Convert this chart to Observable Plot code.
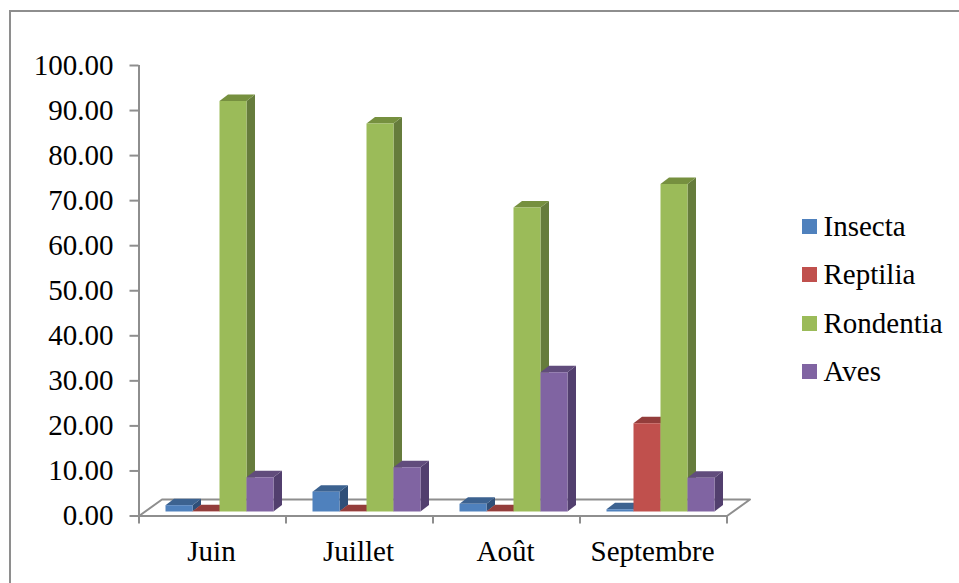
<!DOCTYPE html>
<html lang="fr">
<head>
<meta charset="utf-8">
<title>Régime alimentaire par mois</title>
<script src="https://cdn.jsdelivr.net/npm/d3@7"></script>
<script src="https://cdn.jsdelivr.net/npm/@observablehq/plot@0.6"></script>
<style>
  html, body { margin: 0; background: #fff; }
  #chart { position: relative; width: 959px; height: 583px; overflow: hidden;
           font-family: "Liberation Serif", "Times New Roman", serif; }
  #chart svg { position: absolute; left: 0; top: 0; background: transparent; }
  #border { position: absolute; left: 8.5px; top: 9.5px; width: 960px; height: 600px;
            border: 2px solid #8e8e8e; box-sizing: border-box; }
  #legend { position: absolute; left: 802px; top: 207px; color: #000; font-size: 29px; }
  #legend div { position: absolute; left: 0; white-space: nowrap; height: 30px; line-height: 30px; }
  #legend i { position: absolute; left: 0; top: 8px; width: 15px; height: 15px; }
  #legend span { position: absolute; left: 21.5px; top: 0; }
</style>
</head>
<body>
<div id="chart"><div id="border"></div><div id="legend"></div></div>
<script>
const months = ["Juin", "Juillet", "Août", "Septembre"];
const series = ["Insecta", "Reptilia", "Rondentia", "Aves"];
const insecta = [1.4, 4.4, 1.7, 0.5];
const reptilia = [0.05, 0.05, 0.05, 19.6];
const rondentia = [91.1, 86.1, 67.5, 72.7];
const aves = [7.6, 9.8, 30.9, 7.5];
const values = [insecta, reptilia, rondentia, aves];

const frontColors = ["#4f81bd", "#c0504d", "#9bbb59", "#8064a2"];
const topColors = ["#3c6290", "#933d3b", "#76903f", "#614c7c"];
const sideColors = ["#2f4f78", "#7c3331", "#667c3c", "#523f6e"];

// Bar layout within one month band, and the pseudo-3D depth, in scale units.
const barWidth = 27 / 147;
const barStart = 27 / 147;
const depthX = 8.5 / 147;
const depthY = 6.5 / 4.5;

// Each bar becomes three filled faces, painted back to front from left to right.
const faces = [];
months.forEach((month, m) => {
  series.forEach((name, s) => {
    const v = values[s][m];
    const x1 = m + barStart + s * barWidth;
    const x2 = x1 + barWidth;
    const face = (kind, color, pts) =>
      pts.forEach(([x, y]) => faces.push({id: `${month}-${name}-${kind}`, color, x, y}));
    face("side", sideColors[s], [[x2, 0], [x2 + depthX, depthY], [x2 + depthX, v + depthY], [x2, v]]);
    face("top", topColors[s], [[x1, v], [x1 + depthX, v + depthY], [x2 + depthX, v + depthY], [x2, v]]);
    face("front", frontColors[s], [[x1, 0], [x1, v], [x2, v], [x2, 0]]);
  });
});

// Floor of the chart: front edge on the axis, back edge receding to the right.
const floorDepthX = 23 / 147;
const floorDepthY = 16.5 / 4.5;
const floor = [
  {x: 0, y: 0}, {x: floorDepthX, y: floorDepthY},
  {x: 4 + floorDepthX, y: floorDepthY}, {x: 4, y: 0}, {x: 0, y: 0}
];

const gray = "#8e8e8e";
const plot = Plot.plot({
  width: 959,
  height: 583,
  marginLeft: 138.5,
  marginRight: 232.5,
  marginTop: 65,
  marginBottom: 67.5,
  style: {background: "transparent", fontFamily: "'Liberation Serif', 'Times New Roman', serif"},
  x: {domain: [0, 4], axis: null},
  y: {domain: [0, 100], axis: null},
  marks: [
    Plot.line(floor, {x: "x", y: "y", stroke: gray, strokeWidth: 2}),
    Plot.ruleX([0], {y1: 0, y2: 100, stroke: gray, strokeWidth: 2}),
    Plot.axisY({
      ticks: d3.range(0, 101, 10), tickFormat: d3.format(".2f"), tickSize: 9, tickPadding: 16.5,
      stroke: gray, strokeWidth: 2, fontSize: 29, label: null, marginLeft: 138.5
    }),
    Plot.axisX({
      ticks: d3.range(0, 5), tickFormat: () => "", tickSize: 8, stroke: gray, strokeWidth: 2, label: null
    }),
    Plot.text(months, {
      x: (d, i) => i + 0.5, y: 0, dy: 35.5, dx: -1, text: d => d, fontSize: 29, fill: "#000"
    }),
    Plot.line(faces, {
      x: "x", y: "y", z: "id", fill: "color", stroke: "none", dy: -4.5, dx: -0.5
    })
  ]
});
document.getElementById("chart").prepend(plot);

// Legend entries stacked beside the plot, sharing the bar colours.
const legend = document.getElementById("legend");
series.forEach((name, i) => {
  const row = document.createElement("div");
  row.style.top = `${i * 48.3 + 4}px`;
  row.innerHTML = `<i style="background:${frontColors[i]}"></i><span>${name}</span>`;
  legend.append(row);
});
</script>
</body>
</html>
